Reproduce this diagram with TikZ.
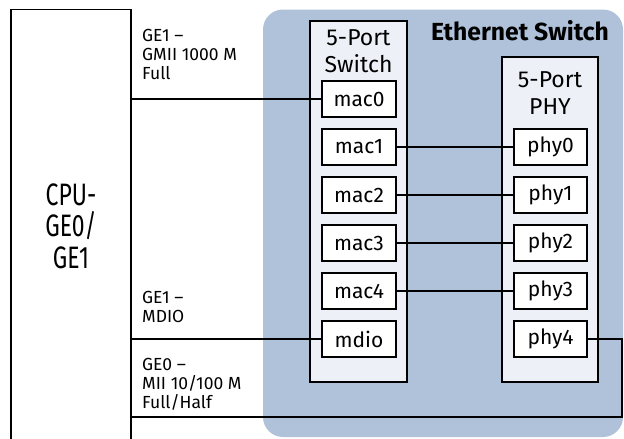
\documentclass[tikz,border=0pt]{standalone}
\usepackage{fontspec}
\setmainfont{Fira Sans}
\newfontfamily\cpufont{Fira Sans}[FakeStretch=0.74]
\definecolor{swblue}{RGB}{175,194,218}
\definecolor{panel}{RGB}{237,241,247}
\begin{document}
\begin{tikzpicture}[x=1pt,y=-1pt,
  port/.style={draw, fill=white, line width=1.3pt, minimum width=74pt, minimum height=36pt, inner sep=0pt, font=\fontsize{21}{24}\selectfont},
  block/.style={draw, fill=panel, line width=1.4pt, inner sep=0pt},
  wire/.style={line width=1.3pt},
  lbl/.style={anchor=north west, inner sep=0pt, align=left, font=\fontsize{17.5}{18.8}\selectfont},
  ttl/.style={anchor=north, inner sep=0pt, align=center, font=\fontsize{23}{27}\selectfont}]
\useasboundingbox (0,0) rectangle (624,439);
\fill[white] (0,0) rectangle (624,439);
% Ethernet switch region
\fill[swblue, rounded corners=20pt] (263,9.5) rectangle (623,437);
\node[anchor=base, inner sep=0pt, font=\bfseries\fontsize{24.7}{28}\selectfont] (title) at (520,40) {Ethernet Switch};
% CPU
\node[draw, line width=1.4pt, minimum width=120pt, minimum height=433pt, inner sep=0pt, align=center,
      font=\cpufont\fontsize{31}{31.5}\selectfont] (cpu) at (71,226) {CPU-\\GE0/\\GE1};
% blocks
\node[block, minimum width=97pt, minimum height=361pt] (sw) at (358.5,201.5) {};
\node[ttl] (swt) at (358.5,29) {5-Port\\Switch};
\node[block, minimum width=96pt, minimum height=325pt] (phyb) at (550,219.5) {};
\node[ttl] (phyt) at (550,71.5) {5-Port\\PHY};
% ports
\foreach \n/\y in {mac0/99, mac1/147, mac2/195, mac3/243, mac4/291, mdio/339}
  \node[port] (\n) at (359,\y) {\n};
\foreach \n/\y in {phy0/147, phy1/195, phy2/243, phy3/291, phy4/339}
  \node[port, minimum width=73pt] (\n) at (550.5,\y) {\n};
% wires
\draw[wire] (cpu.east |- mac0.west) -- (mac0.west);
\draw[wire] (mac1.east) -- (phy0.west);
\draw[wire] (mac2.east) -- (phy1.west);
\draw[wire] (mac3.east) -- (phy2.west);
\draw[wire] (mac4.east) -- (phy3.west);
\draw[wire] (cpu.east |- mdio.west) -- (mdio.west);
\coordinate (turn) at (622,417);
\draw[wire] (phy4.east) -| (turn) -- (cpu.east |- turn);
% labels
\node[lbl] (l1) at (142,29) {GE1 –\\GMII 1000 M\\Full};
\node[lbl] (l2) at (142,291) {GE1 –\\MDIO};
\node[lbl] (l3) at (142,358.5) {GE0 –\\MII 10/100 M\\Full/Half};
\end{tikzpicture}
\end{document}
